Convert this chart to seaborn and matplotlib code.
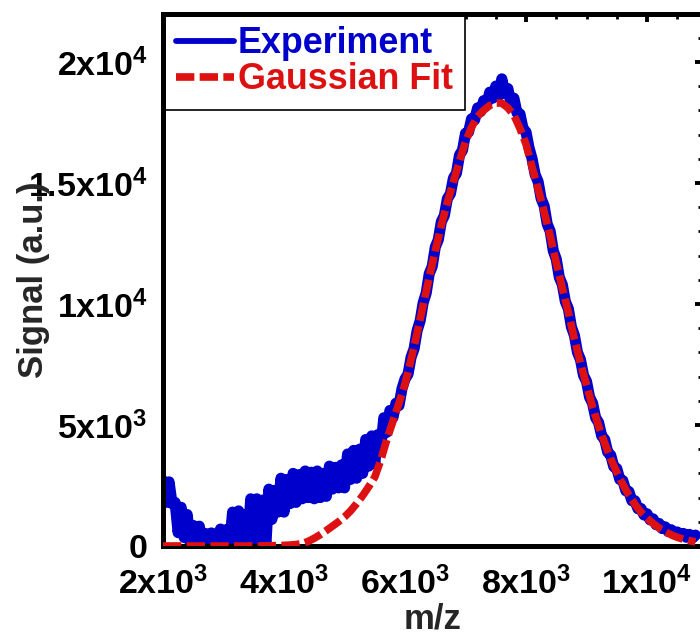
import numpy as np
import pandas as pd
import matplotlib
matplotlib.use("Agg")
import matplotlib.pyplot as plt
import seaborn as sns
from matplotlib.ticker import MultipleLocator
from matplotlib.lines import Line2D

# ---------------- data ----------------
exp_mz = np.arange(2000, 10801, 50)
exp_signal = [
    2700, 1800, 2650, 1750, 1800, 550, 1600, 350, 1300, 100,
    850, 0, 820, 30, 520, 0, 540, 0, 300, 700,
    0, 680, 0, 1400, 100, 1450, 0, 1300, 200, 1950,
    0, 1950, 100, 1900, 0, 2350, 1100, 2300, 1400, 2800,
    1400, 2750, 1750, 3000, 1800, 2950, 1950, 3100, 2000, 3050,
    1950, 3100, 2000, 3000, 2050, 3300, 2350, 3250, 2400, 3350,
    2400, 3800, 2750, 3950, 2800, 4000, 3000, 4400, 3300, 4550,
    3400, 4600, 4100, 5300, 4700, 5600, 5300, 5900, 5800, 6500,
    6900, 7100, 7800, 8150, 8900, 9300, 10050, 10450, 11250, 11550,
    12350, 12650, 13400, 13650, 14350, 14550, 15200, 15400, 16150, 16350,
    17050, 17100, 17650, 17600, 18100, 17950, 18400, 18250, 18750, 18500,
    19000, 18600, 19300, 18700, 18900, 18300, 18500, 17900, 17850, 17250,
    17100, 16450, 16000, 15350, 15050, 14350, 14050, 13300, 13000, 12200,
    11850, 11100, 10800, 10100, 9800, 9050, 8700, 8000, 7700, 7050,
    6800, 6150, 5900, 5300, 5100, 4550, 4400, 3880, 3750, 3280,
    3200, 2750, 2700, 2280, 2250, 1870, 1870, 1540, 1550, 1280,
    1330, 1080, 1120, 880, 930, 720, 790, 600, 670, 500,
    580, 420, 520, 360, 480, 330, 450,
]

fit_mz = np.arange(2000, 10801, 100)
fit_signal = [
    0, 0, 0, 0, 0, 0, 0, 0, 0, 0,
    0, 0, 0, 0, 0, 2, 4, 6, 10, 15,
    25, 40, 60, 100, 190, 320, 470, 640, 820, 1000,
    1200, 1450, 1750, 2080, 2450, 2850, 3550, 4400, 5150, 5900,
    6700, 7700, 8800, 9950, 11100, 12200, 13250, 14200, 15050, 15900,
    16700, 17300, 17750, 18000, 18200, 18300, 18300, 18100, 17800, 17250,
    16600, 15650, 14750, 13800, 12800, 11700, 10650, 9650, 8550, 7550,
    6650, 5750, 4950, 4250, 3600, 3050, 2550, 2100, 1720, 1400,
    1150, 930, 740, 590, 460, 360, 280, 220, 170,
]

x_ticks = [2000, 4000, 6000, 8000, 10000]
x_tick_labels = [r"$2x10^{3}$", r"$4x10^{3}$", r"$6x10^{3}$", r"$8x10^{3}$", r"$1x10^{4}$"]
y_ticks = [0, 5000, 10000, 15000, 20000]
y_tick_labels = [r"$0$", r"$5x10^{3}$", r"$1x10^{4}$", r"$1.5x10^{4}$", r"$2x10^{4}$"]

series_labels = ["Experiment", "Gaussian Fit"]
BLUE = "#0000CC"
RED = "#DD1111"

# ---------------- style ----------------
sns.set_style("white")
plt.rcParams["font.family"] = ["Liberation Sans", "DejaVu Sans"]
plt.rcParams["font.weight"] = "bold"
plt.rcParams["mathtext.fontset"] = "custom"
plt.rcParams["mathtext.rm"] = "Liberation Sans:bold"
plt.rcParams["mathtext.it"] = "Liberation Sans:bold"
plt.rcParams["mathtext.bf"] = "Liberation Sans:bold"
plt.rcParams["mathtext.default"] = "bf"

fig = plt.figure(figsize=(7.0, 6.36), dpi=100)
ax = fig.add_axes([163 / 700, 1 - 546 / 636, (703 - 163) / 700, (546 - 13.5) / 636])

exp_df = pd.DataFrame({"mz": exp_mz, "signal": exp_signal})
fit_df = pd.DataFrame({"mz": fit_mz, "signal": fit_signal})

sns.lineplot(data=exp_df, x="mz", y="signal", ax=ax, color=BLUE, linewidth=8.0,
             sort=False, estimator=None, legend=False, zorder=2)
sns.lineplot(data=fit_df, x="mz", y="signal", ax=ax, color=RED, linewidth=5.5,
             sort=False, estimator=None, legend=False, zorder=3)
ax.lines[-1].set_linestyle((0, (2.4, 0.7)))
ax.lines[-1].set_dash_capstyle("butt")

ax.set_xlim(2000, 10925)
ax.set_ylim(0, 22000)

ax.set_xticks(x_ticks)
ax.set_xticklabels(x_tick_labels)
ax.set_yticks(y_ticks)
ax.set_yticklabels(y_tick_labels)
ax.xaxis.set_minor_locator(MultipleLocator(500))
ax.yaxis.set_minor_locator(MultipleLocator(1000))

ax.tick_params(which="both", direction="in", top=True, right=True, colors="black")
ax.tick_params(which="major", length=6, width=2.8, labelsize=24.5)
ax.tick_params(which="minor", length=3.5, width=2.0)
ax.tick_params(axis="y", which="major", pad=11)
ax.tick_params(axis="x", which="major", pad=15)

for sp in ax.spines.values():
    sp.set_linewidth(3.6)
    sp.set_color("black")
    sp.set_visible(True)

ax.set_xlabel("m/z", fontsize=25, fontweight="bold")
ax.set_ylabel("Signal (a.u.)", fontsize=25, fontweight="bold")
ax.xaxis.set_label_coords(0.5, -0.107)
ax.yaxis.set_label_coords(-0.21, 0.5)

handles = [
    Line2D([0], [0], color=BLUE, lw=4.2),
    Line2D([0], [0], color=RED, lw=5.5, linestyle=(0, (2.4, 0.7)), dash_capstyle="butt"),
]
leg = ax.legend(handles, series_labels, loc="upper left", bbox_to_anchor=(0, 1),
                borderaxespad=0, frameon=True, fancybox=False, framealpha=1,
                edgecolor="black", prop={"weight": "bold", "size": 25.8},
                handlelength=1.62, handletextpad=0.1, labelspacing=0.02,
                borderpad=0.36)
leg.get_frame().set_linewidth(1.2)
leg.set_zorder(2.4)
for txt, c in zip(leg.get_texts(), [BLUE, RED]):
    txt.set_color(c)

fig.savefig("out.png", dpi=100)
